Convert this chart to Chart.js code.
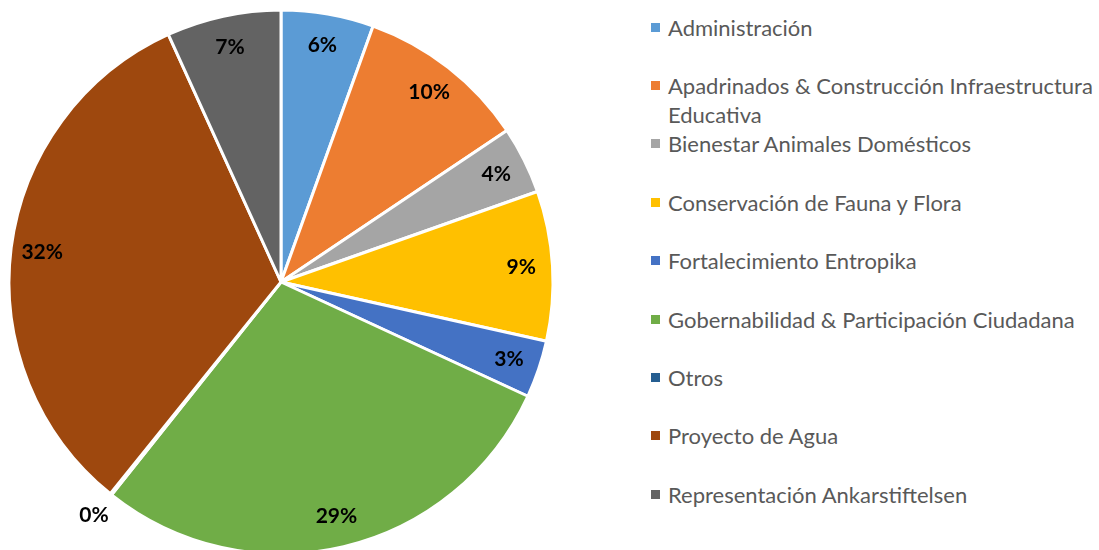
<!DOCTYPE html>
<html>
<head>
<meta charset="utf-8">
<script src="https://cdn.jsdelivr.net/npm/chart.js@4/dist/chart.umd.min.js"></script>
<style>
  html, body { margin: 0; padding: 0; background: #fff; overflow: hidden; width: 1099px; height: 550px; }
  #pieWrap { position: absolute; left: 0; top: 0; }
  #legend { position: absolute; left: 0; top: 0; font-family: Lato, "Open Sans", sans-serif; font-size: 22px; color: #595959; }
  .item { position: absolute; left: 651px; width: 448px; }
  .box { position: absolute; left: 0; top: 10px; width: 9px; height: 9px; }
  .txt { position: absolute; left: 17px; top: 0; width: 431px; line-height: 29px; }
</style>
</head>
<body>
<div id="pieWrap"><canvas id="chartCanvas" width="562" height="564"></canvas></div>
<div id="legend"></div>
<script>
const categories = [
    'Administración',
    'Apadrinados & Construcción Infraestructura Educativa',
    'Bienestar Animales Domésticos',
    'Conservación de Fauna y Flora',
    'Fortalecimiento Entropika',
    'Gobernabilidad & Participación Ciudadana',
    'Otros',
    'Proyecto de Agua',
    'Representación Ankarstiftelsen'
];
const shares = [5.5, 10.1, 4.0, 8.9, 3.4, 28.8, 0.1, 32.4, 6.8];
const colors = ['#5B9BD5', '#ED7D31', '#A5A5A5', '#FFC000', '#4472C4', '#70AD47', '#255E91', '#9E480E', '#636363'];

// etiquetas de porcentaje dentro de cada porción (fuera si es muy pequeña)
const pctLabels = {
    id: 'pctLabels',
    afterDatasetsDraw(chart) {
        const ctx = chart.ctx;
        const meta = chart.getDatasetMeta(0);
        const total = shares.reduce((a, b) => a + b, 0);
        ctx.save();
        ctx.font = 'bold 21px Lato, "Open Sans", sans-serif';
        ctx.fillStyle = '#000';
        ctx.textAlign = 'center';
        ctx.textBaseline = 'middle';
        meta.data.forEach((arc, i) => {
            const p = arc.getProps(['x', 'y', 'startAngle', 'endAngle', 'outerRadius'], true);
            const mid = (p.startAngle + p.endAngle) / 2;
            const pct = shares[i] / total * 100;
            const r = pct < 1 ? p.outerRadius * 1.1 : p.outerRadius * 0.885;
            ctx.fillText(Math.round(pct) + '%', p.x + Math.cos(mid) * r, p.y + Math.sin(mid) * r);
        });
        ctx.restore();
    }
};

new Chart(document.getElementById('chartCanvas').getContext('2d'), {
    type: 'pie',
    data: {
        labels: categories,
        datasets: [{
            data: shares,
            backgroundColor: colors,
            borderColor: '#fff',
            borderWidth: 3
        }]
    },
    options: {
        responsive: false,
        animation: false,
        layout: { padding: 7.5 },
        plugins: {
            legend: { display: false },
            tooltip: { enabled: false }
        }
    },
    plugins: [pctLabels]
});

// leyenda
const legend = document.getElementById('legend');
categories.forEach((name, i) => {
    const item = document.createElement('div');
    item.className = 'item';
    item.style.top = (12.5 + i * 58.4) + 'px';
    item.innerHTML = '<div class="box" style="background:' + colors[i] + '"></div><div class="txt">' + name + '</div>';
    legend.appendChild(item);
});
</script>
</body>
</html>
